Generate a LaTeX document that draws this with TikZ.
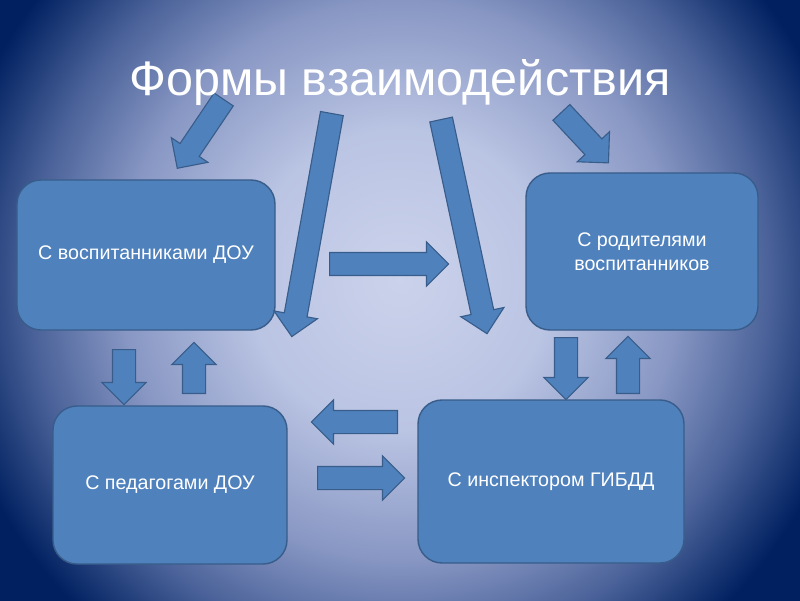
\documentclass[tikz,border=0pt]{standalone}
\usepackage{fontspec}
\setmainfont{Liberation Sans}
\usetikzlibrary{shapes.arrows}
\definecolor{boxfill}{RGB}{79,129,189}
\definecolor{boxedge}{RGB}{56,93,138}
\definecolor{bglight}{RGB}{203,210,235}
\definecolor{bgsoft}{RGB}{186,196,227}
\definecolor{bgmid}{RGB}{135,150,195}
\definecolor{bgdark}{RGB}{74,98,153}
\definecolor{bgdeep}{RGB}{0,32,96}
\pgfdeclareradialshading{slidebg}{\pgfpoint{0bp}{0bp}}{color(0bp)=(bglight); color(7.5bp)=(bgsoft); color(14bp)=(bgmid); color(18.5bp)=(bgdark); color(23bp)=(bgdeep); color(50bp)=(bgdeep)}

\begin{document}
\begin{tikzpicture}[
    box/.style={draw=boxedge, fill=boxfill, line width=1pt, rounded corners=0.6cm, text=white, align=center, font=\fontsize{14}{17}\selectfont, inner sep=0pt},
    blk/.style={single arrow, draw=boxedge, fill=boxfill, line width=0.8pt, inner sep=0pt, inner ysep=0.275cm, single arrow head extend=0.2625cm, anchor=tail}
]
\useasboundingbox (0,0) rectangle (20,15);
\begin{scope}
    \clip (0,0) rectangle (20,15);
    \shade[shading=slidebg] (-2.5,-4.5) rectangle (22.5,20.5);
\end{scope}

% four partners
\node[box, minimum width=6.45cm, minimum height=3.75cm] (pupils) at (3.65,8.625) {С воспитанниками ДОУ};
\node[box, minimum width=5.8cm, minimum height=3.925cm] (parents) at (16.05,8.7125) {С родителями\\воспитанников};
\node[box, minimum width=5.85cm, minimum height=3.95cm] (teachers) at (4.25,2.875) {С педагогами ДОУ};
\node[box, minimum width=6.65cm, minimum height=4.075cm] (police) at (13.775,2.9625) {С инспектором ГИБДД};

% block arrows: name/tail x/tail y/angle/length
\foreach \name/\x/\y/\ang/\len in {
    toPupils/5.6/12.525/236/2.075,
    longLeft/8.3/12.175/259.8/5.665,
    longRight/11.025/12.025/282.1/5.475,
    toParents/14.025/12.2/-47/1.725,
    middle/8.225/8.4/0/2.975,
    pupDown/3.1/6.275/270/1.375,
    pupUp/4.85/5.15/90/1.275,
    parDown/14.15/6.575/270/1.55,
    parUp/15.7/5.15/90/1.425,
    backLeft/9.95/4.45/180/2.15,
    goRight/7.925/3.05/0/2.175} {
    \node[blk, rotate=\ang, minimum height=\len cm] (\name) at (\x,\y) {};
}

\node[font=\fontsize{34.5}{40}\selectfont, text=white, anchor=base] (title) at (10,12.6) {Формы взаимодействия};

\end{tikzpicture}
\end{document}
